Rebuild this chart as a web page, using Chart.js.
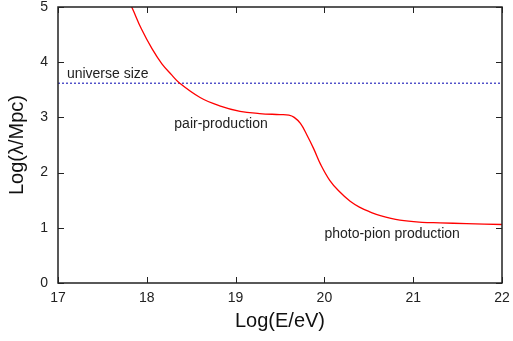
<!DOCTYPE html>
<html>
<head>
<meta charset="utf-8">
<title>Energy loss length</title>
<script src="https://cdn.jsdelivr.net/npm/chart.js"></script>
<style>
  body { margin: 0; background: #fff; }
  #wrap { width: 513px; height: 341px; }
</style>
</head>
<body>
<div id="wrap"><canvas id="c"></canvas></div>
<script>
// data: log10(E/eV) vs log10(lambda/Mpc)
const logE = [17.75, 17.83, 17.94, 18.06, 18.17, 18.28, 18.37, 18.6, 18.82, 19.05, 19.27, 19.5, 19.6, 19.66, 19.73, 19.8, 19.88, 19.96, 20.06, 20.16, 20.29, 20.4, 20.51, 20.63, 20.85, 21.1, 21.3, 21.6, 22.0];
const logLambda = [5.25, 5.0, 4.6, 4.24, 3.97, 3.77, 3.62, 3.36, 3.21, 3.11, 3.07, 3.05, 3.04, 3.0, 2.89, 2.69, 2.43, 2.14, 1.86, 1.67, 1.48, 1.37, 1.29, 1.22, 1.14, 1.10, 1.09, 1.075, 1.06];

const universeX = [17, 22];
const universeY = [3.62, 3.62];

const xTicks = [17, 18, 19, 20, 21, 22];
const yTicks = [0, 1, 2, 3, 4, 5];

// text labels, anchored at data coords (left, baseline)
const labels = [
  { text: 'universe size', x: 17.1, y: 3.71 },
  { text: 'pair-production', x: 18.31, y: 2.81 },
  { text: 'photo-pion production', x: 20.0, y: 0.81 }
];

const FONT = '"Liberation Sans", Arial, Helvetica, sans-serif';

const framePlugin = {
  id: 'frame',
  afterDatasetsDraw(chart) {
    const { ctx, chartArea: a, scales: { x, y } } = chart;
    ctx.save();
    ctx.strokeStyle = '#222';
    ctx.lineWidth = 1.5;
    ctx.strokeRect(a.left, a.top, a.right - a.left, a.bottom - a.top);
    ctx.lineWidth = 1;
    ctx.beginPath();
    const tl = 6;
    xTicks.forEach(v => {
      const px = Math.round(x.getPixelForValue(v)) + 0.5;
      ctx.moveTo(px, a.bottom); ctx.lineTo(px, a.bottom - tl);
      ctx.moveTo(px, a.top); ctx.lineTo(px, a.top + tl);
    });
    yTicks.forEach(v => {
      const py = Math.round(y.getPixelForValue(v)) + 0.5;
      ctx.moveTo(a.left, py); ctx.lineTo(a.left + tl, py);
      ctx.moveTo(a.right, py); ctx.lineTo(a.right - tl, py);
    });
    ctx.stroke();

    // annotations
    ctx.fillStyle = '#222';
    ctx.font = '14px ' + FONT;
    ctx.textBaseline = 'alphabetic';
    ctx.textAlign = 'left';
    labels.forEach(l => {
      ctx.fillText(l.text, x.getPixelForValue(l.x), y.getPixelForValue(l.y));
    });
    ctx.restore();
  }
};

new Chart(document.getElementById('c'), {
  type: 'line',
  data: {
    datasets: [
      {
        data: logE.map((v, i) => ({ x: v, y: logLambda[i] })),
        borderColor: '#ff0000',
        borderWidth: 1.3,
        pointRadius: 0,
        fill: false,
        tension: 0.4
      },
      {
        data: universeX.map((v, i) => ({ x: v, y: universeY[i] })),
        borderColor: '#0000b0',
        borderWidth: 1,
        borderDash: [2, 2],
        pointRadius: 0,
        fill: false
      }
    ]
  },
  options: {
    responsive: true,
    maintainAspectRatio: false,
    animation: false,
    layout: { padding: 0 },
    plugins: { legend: { display: false }, tooltip: { enabled: false } },
    scales: {
      x: {
        type: 'linear',
        min: 17, max: 22,
        afterFit(s) { s.height = 58; s.paddingRight = 11; },
        afterBuildTicks(s) { s.ticks = xTicks.map(v => ({ value: v })); },
        grid: { display: false, drawTicks: false },
        border: { display: false },
        ticks: { color: '#222', padding: 7, font: { family: FONT, size: 14 } },
        title: { display: true, text: 'Log(E/eV)', color: '#111', padding: { top: 0, bottom: 8 }, font: { family: FONT, size: 20 } }
      },
      y: {
        min: 0, max: 5,
        afterFit(s) { s.width = 58; s.paddingTop = 7; },
        afterBuildTicks(s) { s.ticks = yTicks.map(v => ({ value: v })); },
        grid: { display: false, drawTicks: false },
        border: { display: false },
        ticks: { color: '#222', padding: 10, font: { family: FONT, size: 14 } },
        title: { display: true, text: 'Log(λ/Mpc)', color: '#111', padding: { top: 5, bottom: 0 }, font: { family: FONT, size: 20 } }
      }
    }
  },
  plugins: [framePlugin]
});
</script>
</body>
</html>
